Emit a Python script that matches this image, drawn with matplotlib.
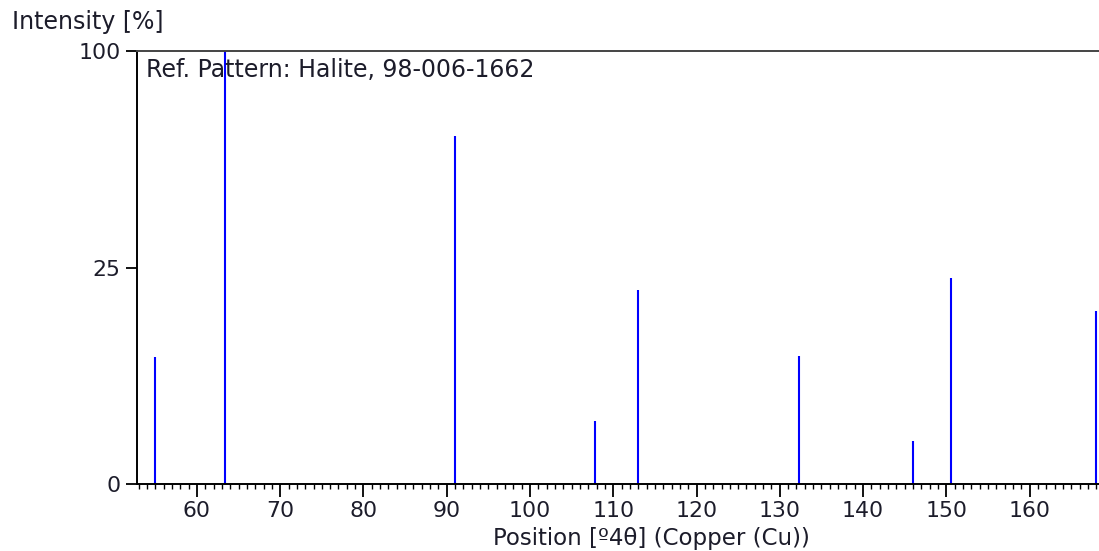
import numpy as np
import matplotlib
matplotlib.use("Agg")
import matplotlib.pyplot as plt
from matplotlib.ticker import MultipleLocator, FixedLocator

# Data (position, relative intensity %)
positions = [54.95, 63.4, 91.0, 107.8, 112.96, 132.3, 146.0, 150.6, 168.0]
intensities = [8.6, 100.0, 64.6, 2.1, 20.0, 8.7, 1.0, 22.6, 16.0]
y_ticks = [0, 25, 100]
x_major = list(range(60, 170, 10))

plt.rcParams['font.family'] = ['DejaVu Sans']

fig = plt.figure(figsize=(10.99, 5.51), dpi=100)
ax = fig.add_axes([137/1099, 1-484/551, 1-137/1099 + 0.002, (484-51)/551])

fwd = lambda v: np.sqrt(np.clip(v, 0, None))
inv = lambda v: np.square(v)
ax.set_yscale('function', functions=(fwd, inv))

ax.vlines(positions, 0, intensities, colors='#0000ff', linewidth=1.5)

ax.set_xlim(52.8, 168.6)
ax.set_ylim(0, 100)

ax.yaxis.set_major_locator(FixedLocator(y_ticks))
ax.yaxis.set_minor_locator(FixedLocator([]))
ax.set_yticklabels([str(t) for t in y_ticks])
ax.xaxis.set_major_locator(FixedLocator(x_major))
ax.xaxis.set_minor_locator(MultipleLocator(1))

txt_color = '#1c1c2a'
tick_fs = 15.8
text_fs = 17.0
ax.tick_params(axis='y', which='major', direction='out', length=8, width=1.3,
               pad=4, labelsize=tick_fs, labelcolor=txt_color)
ax.tick_params(axis='x', which='major', direction='out', length=9, width=1.3,
               pad=3.5, labelsize=tick_fs, labelcolor=txt_color)
ax.tick_params(axis='x', which='minor', direction='out', length=3.5, width=1.0)

for s in ['left', 'bottom']:
    ax.spines[s].set_color('black')
    ax.spines[s].set_linewidth(1.4)
ax.spines['top'].set_color('#444444')
ax.spines['top'].set_linewidth(1.4)
ax.spines['right'].set_visible(False)

ax.set_xlabel('Position [º4θ] (Copper (Cu))', fontsize=16.5, color=txt_color,
              labelpad=0, va='center')
ax.xaxis.set_label_coords((650-137)/(1099-137), (484-538)/433)

fig.text(12/1099, 1-22/551, 'Intensity [%]', fontsize=text_fs, color=txt_color,
         ha='left', va='center')
ax.text(146/1099, 1-70/551, 'Ref. Pattern: Halite, 98-006-1662', fontsize=text_fs,
        color=txt_color, ha='left', va='center', transform=fig.transFigure)

fig.savefig('out.png', dpi=100)
